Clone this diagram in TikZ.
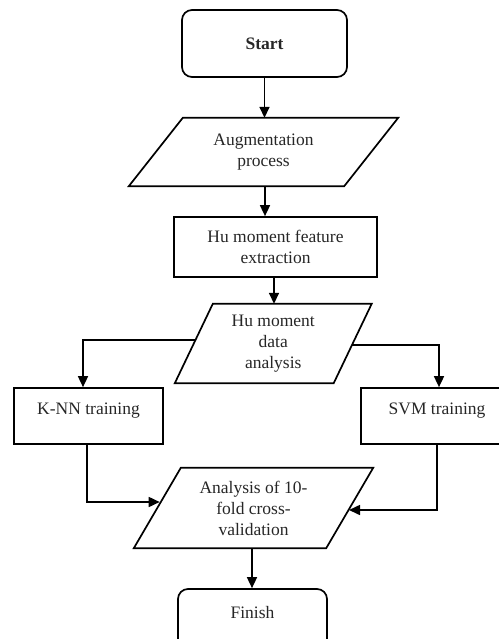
\documentclass[tikz,border=0pt]{standalone}
\usepackage{fontspec}
\setmainfont{Liberation Serif}
\usetikzlibrary{arrows.meta,calc}
\begin{document}
\begin{tikzpicture}[x=1pt,y=-1pt,
  txt/.style={font=\fontsize{17.5}{21}\selectfont, text=black!85, align=center, inner sep=0pt},
  term/.style={txt, draw, line width=1.7pt, rounded corners=10pt},
  proc/.style={txt, draw, line width=1.7pt},
  iobox/.style={txt},
  outline/.style={draw, line width=1.7pt, line join=miter},
  arr/.style={line width=1.6pt, -{Triangle[length=11pt,width=10pt]}}
]
\useasboundingbox (0,0) rectangle (498,639);

% Start
\node[term, minimum width=165pt, minimum height=67pt] (start) at (264.5,43.5) {\textbf{Start}};

% Augmentation (parallelogram, slant 54)
\node[iobox, minimum width=215pt, minimum height=68pt] (aug) at (263.5,152) {Augmentation\\process};
\draw[outline] ([xshift=27pt]aug.north west) -- ([xshift=27pt]aug.north east)
  -- ([xshift=-27pt]aug.south east) -- ([xshift=-27pt]aug.south west) -- cycle;

% Hu moment feature extraction
\node[proc, minimum width=203pt, minimum height=60pt] (hu) at (275.5,247) {Hu moment feature\\extraction};

% Hu moment data analysis (parallelogram, slant 38)
\node[iobox, minimum width=158.5pt, minimum height=79pt] (data) at (273.25,343.5) {Hu moment\\data\\analysis};
\draw[outline] ([xshift=19pt]data.north west) -- ([xshift=19pt]data.north east)
  -- ([xshift=-19pt]data.south east) -- ([xshift=-19pt]data.south west) -- cycle;

% K-NN and SVM training
\node[proc, minimum width=149pt, minimum height=56pt] (knn) at (88.5,416) {\raisebox{14pt}{K-NN training}};
\node[proc, minimum width=152pt, minimum height=56pt] (svm) at (437,416) {\raisebox{14pt}{SVM training}};

% Analysis of 10-fold cross-validation (parallelogram, slant 47)
\node[iobox, minimum width=192pt, minimum height=80pt] (ana) at (253.5,508) {Analysis of 10-\\fold cross-\\validation};
\draw[outline] ([xshift=23.5pt]ana.north west) -- ([xshift=23.5pt]ana.north east)
  -- ([xshift=-23.5pt]ana.south east) -- ([xshift=-23.5pt]ana.south west) -- cycle;

% Finish
\node[term, minimum width=149pt, minimum height=61pt] (finish) at (252.5,619.5) {\raisebox{15pt}{Finish}};

% connector end points on slanted edges
\coordinate (dataL) at (196,340);
\coordinate (dataR) at (351.8,345);
\coordinate (anaL) at (159.7,502);
\coordinate (anaR) at (349,510);

% connectors
\draw[arr] (start.south) -- (start.south |- aug.north);
\draw[arr] ([xshift=1.5pt]aug.south) -- ([xshift=1.5pt]aug.south |- hu.north);
\draw[arr] ([xshift=-1.5pt]hu.south) -- ([xshift=-1.5pt]hu.south |- data.north);
\draw[arr] (dataL) -| ([xshift=-5.5pt]knn.north);
\draw[arr] (dataR) -| ([xshift=2pt]svm.north);
\draw[arr] ([xshift=-1.5pt]knn.south) |- (anaL);
\draw[arr] (svm.south) |- (anaR);
\draw[arr] ([xshift=-1.5pt]ana.south) -- ([xshift=-1.5pt]ana.south |- finish.north);
\end{tikzpicture}
\end{document}
